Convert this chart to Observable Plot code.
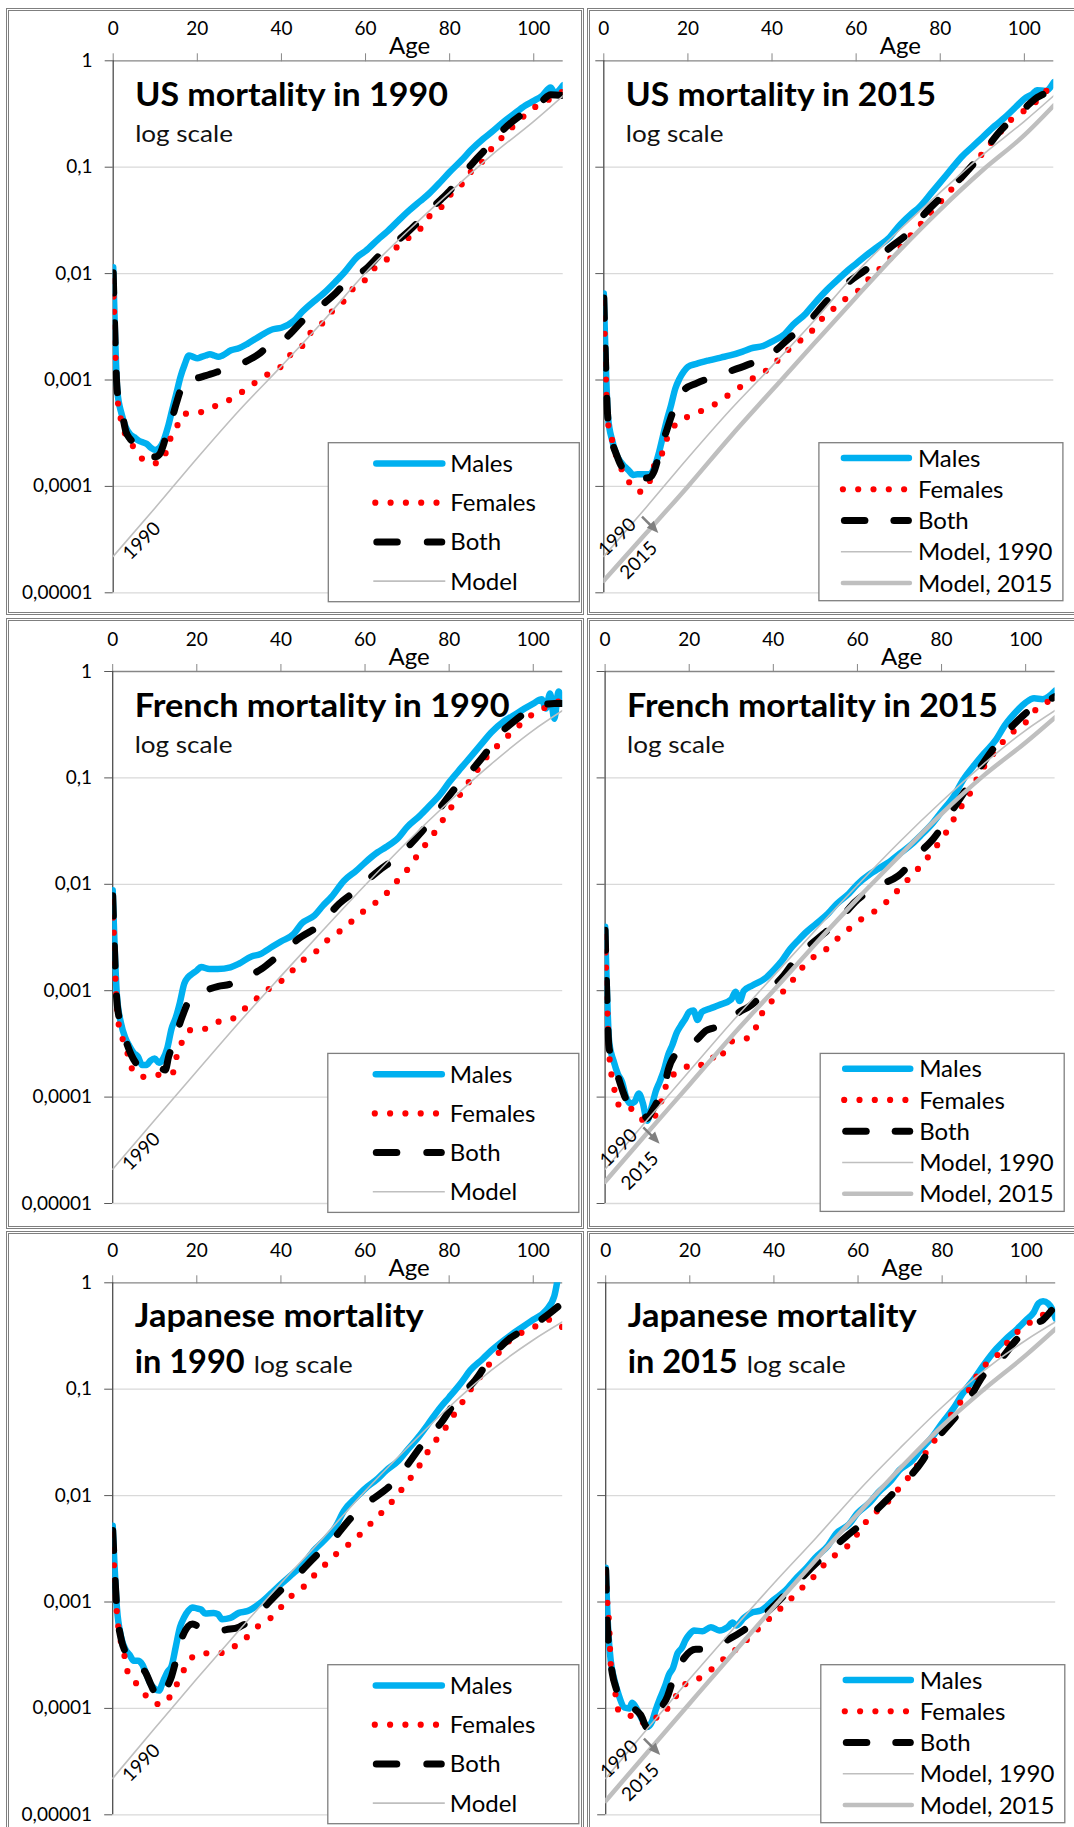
<!DOCTYPE html>
<html><head><meta charset="utf-8">
<script src="https://cdn.jsdelivr.net/npm/d3@7"></script>
<script src="https://cdn.jsdelivr.net/npm/@observablehq/plot@0.6"></script>
<style>
body{margin:0;background:#fff;font-family:Lato,"Open Sans",sans-serif;}
#wrap{position:relative;width:1074px;height:1827px;overflow:hidden;background:#fff;}
.frame{position:absolute;border:3px double #7f7f7f;box-sizing:border-box;pointer-events:none;}
.panel{position:absolute;}
</style></head><body><div id="wrap"></div>
<script>
// ---------- ticks ----------
const xTicks = [0, 20, 40, 60, 80, 100];
const yTicks = [1, 0.1, 0.01, 0.001, 0.0001, 0.00001];
const yTickLabels = ["1", "0,1", "0,01", "0,001", "0,0001", "0,00001"];

// ---------- US 1990 ----------
const usM90 = [[0,0.0115],[1,0.00078],[2,0.00048],[3,0.00036],[4,0.00031],[5,0.00029],[6,0.00027],[7,0.00026],[8,0.00025],[9,0.00023],[10,0.00022],[11,0.00023],[12,0.00027],[13,0.00036],[14,0.00052],[15,0.00074],[16,0.00107],[17,0.0014],[18,0.0017],[19,0.00165],[20,0.0016],[21,0.00165],[22,0.0017],[23,0.00175],[24,0.0017],[25,0.00165],[26,0.0017],[28,0.0019],[30,0.002],[32,0.0022],[35,0.0026],[38,0.003],[40,0.0031],[43,0.0036],[45,0.0044],[48,0.0056],[50,0.0065],[53,0.0085],[55,0.0103],[58,0.0143],[60,0.0163],[63,0.021],[65,0.0245],[68,0.032],[70,0.038],[73,0.048],[75,0.056],[78,0.074],[80,0.09],[83,0.118],[85,0.144],[88,0.185],[90,0.214],[93,0.27],[95,0.31],[98,0.38],[100,0.42],[102,0.47],[104,0.56],[105,0.5],[107,0.59]];
const usF90 = [[0,0.0085],[1,0.0007],[2,0.0004],[3,0.0003],[4,0.00026],[5,0.00023],[6,0.0002],[7,0.00018],[8,0.00017],[9,0.000165],[10,0.000165],[11,0.00017],[12,0.00018],[13,0.00025],[14,0.0003],[15,0.00035],[16,0.00045],[17,0.00048],[19,0.00049],[22,0.00051],[25,0.00059],[28,0.00066],[31,0.00079],[34,0.00096],[37,0.00115],[40,0.00135],[42,0.0017],[45,0.0021],[47,0.0028],[50,0.0035],[52,0.0044],[55,0.0056],[57,0.0072],[60,0.0088],[62,0.0111],[65,0.0135],[67,0.017],[70,0.0213],[73,0.0263],[75,0.034],[78,0.042],[80,0.054],[83,0.07],[85,0.09],[88,0.116],[90,0.15],[93,0.2],[95,0.24],[98,0.31],[100,0.36],[103,0.42],[105,0.46],[107,0.52]];
const usB90 = [[0,0.0102],[1,0.00076],[2,0.00052],[3,0.00033],[4,0.00028],[5,0.000255],[6,0.00023],[7,0.00021],[8,0.0002],[9,0.00019],[10,0.00019],[11,0.0002],[12,0.00025],[13,0.00035],[14,0.00044],[15,0.0006],[16,0.0008],[17,0.00095],[18,0.0011],[19,0.00108],[20,0.00105],[22,0.0011],[25,0.0012],[28,0.00132],[30,0.0014],[33,0.0016],[35,0.0018],[37,0.0021],[40,0.0023],[42,0.0027],[45,0.0036],[48,0.0045],[50,0.0052],[53,0.0066],[55,0.008],[58,0.0097],[60,0.011],[63,0.0145],[65,0.0175],[68,0.021],[70,0.0245],[73,0.032],[75,0.039],[78,0.05],[80,0.06],[83,0.083],[85,0.104],[88,0.14],[90,0.166],[93,0.23],[95,0.27],[98,0.33],[100,0.37],[102,0.42],[104,0.48],[107,0.47]];
const usMod90 = [[0,2.2e-5],[10,6.3e-5],[20,1.85e-4],[30,5.2e-4],[40,1.35e-3],[50,3.6e-3],[60,0.0102],[70,0.025],[80,0.058],[90,0.13],[100,0.27],[107,0.47]];

// ---------- US 2015 ----------
const usM15 = [[0,0.0065],[1,0.00045],[2,0.00027],[3,0.0002],[4,0.00017],[5,0.000153],[6,0.00014],[7,0.000128],[8,0.00013],[9,0.00013],[10,0.00013],[11,0.00013],[12,0.00015],[13,0.0002],[14,0.00029],[15,0.00042],[16,0.00058],[17,0.00083],[18,0.00103],[19,0.0012],[20,0.00133],[22,0.00142],[25,0.00153],[28,0.00163],[30,0.0017],[33,0.00185],[35,0.00198],[38,0.0021],[40,0.0023],[43,0.0027],[45,0.0033],[48,0.0042],[50,0.0052],[53,0.007],[55,0.0083],[58,0.0107],[60,0.0124],[63,0.0155],[65,0.0178],[68,0.022],[70,0.0275],[73,0.036],[75,0.042],[78,0.058],[80,0.072],[83,0.1],[85,0.124],[88,0.16],[90,0.19],[93,0.245],[95,0.285],[98,0.37],[100,0.44],[102,0.49],[103,0.53],[105,0.52],[107,0.63]];
const usF15 = [[0,0.0053],[1,0.0004],[2,0.00027],[3,0.00019],[4,0.00015],[5,0.000132],[6,0.00011],[7,0.000096],[8,0.00009],[9,0.000089],[10,0.0001],[11,0.000114],[12,0.000158],[13,0.00018],[14,0.00021],[15,0.00028],[17,0.00038],[21,0.00047],[24,0.00053],[27,0.00061],[30,0.00074],[33,0.00089],[36,0.00107],[39,0.00126],[41.5,0.00155],[44,0.00194],[47,0.0024],[49.5,0.0029],[52,0.0038],[54.7,0.0047],[57.5,0.0058],[60.5,0.0069],[63,0.0089],[65.7,0.0112],[68.5,0.0144],[71.2,0.019],[74,0.0255],[77.2,0.035],[80,0.047],[83,0.064],[86,0.088],[89,0.12],[91.7,0.163],[94.3,0.214],[97.1,0.285],[100,0.34],[103,0.42],[105.2,0.52],[107,0.55]];
const usB15 = [[0,0.0059],[1,0.00042],[2,0.00026],[3,0.0002],[4,0.00016],[5,0.00014],[6,0.00013],[7,0.000125],[8,0.00012],[9,0.00012],[10,0.00012],[11,0.000122],[12,0.00014],[13,0.00019],[14,0.00026],[15,0.00034],[16,0.00045],[17,0.00058],[18,0.0007],[19,0.0008],[22,0.00093],[27,0.0011],[34,0.00138],[39,0.00166],[44,0.00245],[48.6,0.0035],[53.4,0.0057],[58,0.0082],[63.3,0.0117],[68,0.0175],[72.4,0.024],[76.4,0.037],[81.2,0.057],[85.5,0.084],[90,0.134],[94.3,0.22],[100,0.355],[102.6,0.44],[105,0.5],[107,0.58]];
const usMod15 = [[0,1.3e-5],[10,3.6e-5],[20,1.0e-4],[30,2.9e-4],[40,8.0e-4],[50,2.2e-3],[60,6.0e-3],[70,0.016],[80,0.04],[90,0.093],[100,0.2],[107,0.38]];

// ---------- France 1990 ----------
const frM90 = [[0,0.0088],[1,0.0009],[2,0.00049],[3,0.00036],[4,0.0003],[5,0.00026],[6,0.00024],[7,0.0002],[8,0.0002],[9,0.00022],[10,0.00023],[11,0.00021],[12,0.00023],[13,0.00029],[14,0.00044],[15,0.00056],[16,0.00078],[17,0.00116],[18,0.00135],[19,0.00145],[20,0.00155],[21,0.00167],[23,0.0016],[25,0.0016],[28,0.00166],[30,0.00179],[33,0.0021],[35,0.0022],[38,0.0026],[40,0.0029],[43,0.0034],[45,0.0043],[48,0.0051],[50,0.0063],[52,0.0076],[55,0.0108],[58,0.0135],[60,0.016],[63,0.02],[65,0.0224],[68,0.0276],[70,0.0345],[73,0.044],[75,0.053],[78,0.071],[80,0.091],[83,0.126],[85,0.156],[88,0.216],[90,0.267],[93,0.34],[95,0.38],[98,0.45],[100,0.5],[102,0.55],[103,0.45],[104,0.62],[105,0.36],[106,0.65],[107,0.5]];
const frF90 = [[0,0.0068],[1,0.0007],[1.6,0.00044],[2.8,0.00032],[3.9,0.00023],[4.9,0.000173],[7.4,0.000155],[10.2,0.000159],[12.7,0.00017],[14.3,0.00017],[15.3,0.00025],[16.5,0.00033],[18.7,0.00043],[22.2,0.00044],[25.1,0.00051],[27.9,0.00053],[30.6,0.00064],[33.1,0.00077],[35.7,0.00095],[38.1,0.0011],[40.5,0.00127],[43.1,0.0016],[45.7,0.002],[48.7,0.0024],[51.1,0.003],[53.9,0.0036],[56.6,0.0044],[59.2,0.0054],[62,0.0065],[64.7,0.0079],[67.1,0.0102],[69.6,0.013],[71.7,0.017],[73.9,0.0223],[76.1,0.029],[78.1,0.038],[80.1,0.05],[82.2,0.066],[84.2,0.086],[86.3,0.112],[88.5,0.15],[90.9,0.19],[95,0.27],[100,0.4],[105,0.5],[107,0.55]];
const frB90 = [[0,0.0078],[1,0.0008],[2,0.00047],[3,0.00035],[4.4,0.00025],[7,0.00019],[9,0.00019],[11,0.00019],[12.5,0.00018],[13.3,0.00024],[14.3,0.00031],[16.6,0.00058],[18,0.00079],[19.2,0.00088],[22,0.001],[25.1,0.0011],[27.9,0.00115],[29.8,0.00125],[35.4,0.0016],[38.5,0.002],[44.8,0.0032],[49.1,0.0041],[53.9,0.0066],[57.8,0.0087],[63.3,0.0135],[67.6,0.018],[73.1,0.03],[76.3,0.043],[80.6,0.073],[84.2,0.105],[88.9,0.175],[91.3,0.24],[95,0.33],[100,0.45],[105,0.5],[107,0.5]];
const frMod90 = [[0,2.1e-5],[10,6.1e-5],[20,1.75e-4],[30,5.0e-4],[40,1.37e-3],[50,3.7e-3],[60,0.0098],[70,0.025],[80,0.06],[90,0.135],[100,0.28],[107,0.43]];

// ---------- France 2015 ----------
const frM15 = [[0,0.004],[1,0.00032],[2,0.00022],[3,0.000166],[4,0.00014],[5,0.0001],[6,0.000087],[7,0.00009],[8,0.000108],[9,0.000087],[10,0.00006],[11,0.000079],[12,0.000112],[13,0.00014],[14,0.00018],[15,0.00025],[16,0.00031],[17,0.0004],[18,0.00047],[19,0.00054],[20,0.00063],[21,0.00065],[22,0.00053],[23,0.00063],[25,0.00068],[27,0.00073],[30,0.00083],[31,0.00098],[32,0.0008],[33,0.001],[35,0.00112],[38,0.0013],[40,0.00155],[42,0.0019],[44,0.00246],[46,0.003],[48,0.0036],[50,0.0042],[53,0.0053],[55,0.0065],[58,0.0082],[60,0.01],[63,0.0125],[65,0.014],[68,0.0167],[70,0.0193],[73,0.024],[75,0.0286],[78,0.038],[80,0.048],[83,0.068],[85,0.094],[88,0.135],[90,0.168],[93,0.23],[95,0.31],[98,0.43],[100,0.51],[102,0.56],[104,0.55],[107,0.66]];
const frF15 = [[0,0.0032],[1,0.00025],[2,0.00013],[4,0.000078],[6,0.000078],[7.6,0.000067],[9.6,0.00006],[11.1,0.000062],[12.6,0.000075],[14,0.00011],[15.1,0.00015],[17.5,0.000172],[19.1,0.00019],[21.1,0.000206],[22.7,0.0002],[25.1,0.00024],[27.1,0.00022],[28.7,0.000295],[31.5,0.00035],[34.3,0.00036],[37.5,0.00063],[40.2,0.00084],[43,0.00104],[46.6,0.0016],[49,0.002],[51.8,0.0023],[54.2,0.00285],[57,0.0035],[59.8,0.0044],[62.5,0.0051],[65.7,0.0062],[68.5,0.0079],[70.9,0.01],[73.3,0.0125],[75.7,0.016],[78.1,0.021],[80.1,0.027],[82.1,0.0355],[83.8,0.048],[86,0.063],[89.2,0.112],[91.6,0.155],[96,0.25],[100.4,0.344],[103.6,0.49],[106.5,0.53]];
const frB15 = [[0,0.0037],[1,0.00028],[2,0.00023],[3,0.00016],[4,0.00012],[5,0.000095],[6,0.000085],[8,0.00008],[9,0.000074],[10,0.000063],[11,0.000072],[12,0.000085],[13,0.0001],[14,0.00012],[15,0.00018],[17,0.00026],[19,0.0003],[21.9,0.00035],[23.9,0.00042],[26,0.00045],[28,0.0005],[30.3,0.00056],[31.9,0.00063],[34,0.0007],[38.2,0.00096],[42.2,0.00135],[46.2,0.0022],[50.2,0.003],[55.8,0.0047],[59.4,0.0068],[65.3,0.0098],[69.7,0.012],[74.9,0.02],[78.1,0.027],[83.3,0.055],[86.1,0.081],[90,0.14],[92.8,0.2],[97.6,0.33],[101.2,0.44],[104,0.5],[107,0.58]];
const frMod15 = [[0,1.6e-5],[10,4.6e-5],[20,1.3e-4],[30,3.7e-4],[40,1.0e-3],[50,2.75e-3],[60,7.3e-3],[70,0.0185],[80,0.046],[90,0.105],[100,0.215],[107,0.37]];

// ---------- Japan 1990 ----------
const jpM90 = [[0,0.0052],[1,0.00089],[2,0.00047],[3,0.00036],[4,0.00032],[5,0.00028],[6,0.00028],[7,0.00026],[8,0.00021],[9,0.00017],[10,0.000153],[11,0.000147],[12,0.00018],[13,0.00022],[14,0.00025],[15,0.00038],[16,0.00058],[17,0.00072],[18,0.00083],[19,0.00089],[20,0.00087],[21,0.00085],[22,0.00078],[24,0.00079],[25,0.00077],[26,0.00069],[28,0.00071],[30,0.00079],[32,0.00082],[35,0.00097],[38,0.00124],[40,0.00147],[43,0.00187],[45,0.0022],[48,0.0031],[50,0.0037],[53,0.0051],[55,0.0072],[58,0.0097],[60,0.0116],[63,0.0144],[65,0.0172],[68,0.0214],[70,0.0266],[73,0.0367],[75,0.047],[78,0.068],[80,0.084],[83,0.117],[85,0.15],[88,0.193],[90,0.23],[95,0.33],[100,0.45],[103,0.55],[105,0.75],[106,1.2]];
const jpF90 = [[0,0.0043],[0.5,0.0016],[1,0.00079],[1.4,0.00056],[2,0.00041],[2.9,0.0003],[3.7,0.00021],[5.7,0.00017],[7.9,0.000132],[10.3,0.00011],[12.2,0.00011],[14.2,0.000143],[15.9,0.000188],[17.5,0.000254],[19.3,0.00031],[21.8,0.00033],[24.6,0.00033],[27.4,0.00034],[30,0.00042],[32.6,0.00049],[35.1,0.00062],[38,0.00073],[40.4,0.00093],[42.7,0.00116],[45.5,0.0014],[47.9,0.00178],[50.5,0.00224],[53.2,0.00284],[55.8,0.0034],[58.5,0.0042],[61,0.0053],[63.6,0.0067],[66.1,0.0085],[68.4,0.011],[70.7,0.0144],[72.7,0.0185],[74.7,0.025],[76.7,0.0325],[79,0.0425],[80.8,0.055],[83,0.074],[84.9,0.097],[86.9,0.123],[89.3,0.167],[91.6,0.215],[94,0.277],[100,0.38],[104,0.45],[107,0.38]];
const jpB90 = [[0,0.0047],[1,0.00085],[2,0.00045],[3,0.00034],[4,0.0003],[6,0.00026],[8,0.00021],[9,0.00017],[10,0.00014],[11,0.000123],[12,0.00013],[13,0.00016],[14,0.0002],[15,0.00028],[16,0.00041],[19,0.00062],[20.7,0.00058],[24.6,0.00053],[27,0.00055],[30,0.00058],[31.7,0.00063],[34.5,0.00078],[39.6,0.00125],[43.5,0.00173],[48.3,0.0027],[52.2,0.0038],[56.9,0.0063],[60.9,0.0087],[66.4,0.0129],[70.3,0.02],[74.3,0.033],[78.2,0.049],[82.2,0.084],[86.1,0.12],[90,0.2],[94,0.29],[100,0.4],[104,0.52],[107,0.65]];
const jpMod90 = [[0,2.2e-5],[10,6.5e-5],[20,1.9e-4],[30,5.4e-4],[40,1.5e-3],[50,4.0e-3],[60,0.011],[70,0.028],[80,0.068],[90,0.15],[100,0.29],[107,0.43]];

// ---------- Japan 2015 ----------
const jpM15 = [[0,0.0021],[0.6,0.00054],[1.2,0.00028],[2,0.00019],[3.2,0.00013],[4.4,0.000102],[5.6,0.0001],[6.3,0.000113],[7.5,0.000097],[8.7,0.000078],[9.9,0.000067],[11,0.000075],[11.9,0.000097],[12.9,0.000124],[14,0.000158],[15.1,0.00021],[16,0.00024],[17.1,0.00033],[18.1,0.00037],[19,0.00044],[20,0.0005],[21,0.00054],[23,0.00053],[25,0.00058],[27,0.00054],[29,0.00058],[30.2,0.00064],[31,0.0006],[32.9,0.00071],[34.9,0.0008],[36.9,0.00083],[39.8,0.00104],[42.9,0.0013],[44.8,0.00159],[47.8,0.0021],[49.8,0.0026],[52.9,0.0034],[54.8,0.0044],[57.9,0.0054],[59.8,0.0068],[62.9,0.0087],[64.8,0.0107],[67.9,0.0139],[69.8,0.0173],[72.9,0.0214],[74.8,0.0266],[77.9,0.0367],[79.8,0.047],[82.9,0.068],[84.8,0.09],[87.9,0.13],[89.8,0.167],[92.9,0.24],[94.8,0.287],[97.9,0.37],[99.8,0.44],[101.8,0.53],[102.9,0.64],[104,0.67],[105.2,0.64],[106.1,0.57],[107,0.46]];
const jpF15 = [[0,0.0019],[0.4,0.00097],[0.8,0.00063],[1.2,0.00026],[1.8,0.00019],[3.2,0.0000925],[5.4,0.000088],[8.3,0.000072],[10.3,0.000082],[12.9,0.000082],[14.7,0.0001],[17.1,0.000137],[19,0.00017],[21.3,0.00018],[23.4,0.00021],[25,0.00023],[27,0.00027],[29.8,0.00033],[32.5,0.0004],[34.9,0.0005],[37.7,0.000625],[40.1,0.00078],[42.9,0.00096],[45.2,0.0012],[47.8,0.00149],[50.2,0.00185],[52.6,0.0024],[55.6,0.00295],[58.6,0.0037],[61.1,0.0052],[63.9,0.0068],[66.7,0.0084],[69,0.0108],[71.4,0.0139],[73.8,0.0185],[76.2,0.0256],[78.2,0.033],[80.2,0.042],[82.1,0.057],[84.1,0.073],[86.1,0.094],[88.1,0.13],[90.5,0.173],[93.7,0.22],[96,0.29],[98.4,0.36],[101.6,0.44],[106.3,0.56]];
const jpB15 = [[0,0.002],[0.4,0.0006],[1.6,0.00021],[2.4,0.000158],[3.6,0.000118],[4.5,0.00011],[7.1,0.000097],[8.3,0.000087],[9.9,0.000066],[11.1,0.000077],[13.1,0.0001],[14.7,0.00013],[15.9,0.00018],[18.7,0.0003],[21.4,0.00036],[23.4,0.00036],[29.4,0.00045],[33.3,0.00056],[38.9,0.00084],[42.9,0.0012],[50,0.0023],[57.1,0.0041],[60.3,0.0052],[65.9,0.0084],[69.4,0.0116],[75.4,0.0215],[77.4,0.029],[82.5,0.051],[85.7,0.073],[90.1,0.14],[93.7,0.186],[97.6,0.29],[102,0.41],[104,0.45],[106,0.55]];
const jpMod15 = [[0,1.35e-5],[10,3.9e-5],[20,1.12e-4],[30,3.2e-4],[40,9.0e-4],[50,2.5e-3],[60,6.8e-3],[70,0.018],[80,0.045],[90,0.1],[100,0.21],[107,0.37]];

// ---------- text ----------
const legendOld = ["Males", "Females", "Both", "Model"];
const legendNew = ["Males", "Females", "Both", "Model, 1990", "Model, 2015"];

const panels = [
  {title: ["US mortality in 1990"], males: usM90, females: usF90, both: usB90, models: [usMod90], legend: legendOld, years: ["1990"], row: 0, col: 0},
  {title: ["US mortality in 2015"], males: usM15, females: usF15, both: usB15, models: [usMod90, usMod15], legend: legendNew, years: ["1990", "2015"], row: 0, col: 1},
  {title: ["French mortality in 1990"], males: frM90, females: frF90, both: frB90, models: [frMod90], legend: legendOld, years: ["1990"], row: 1, col: 0},
  {title: ["French mortality in 2015"], males: frM15, females: frF15, both: frB15, models: [frMod90, frMod15], legend: legendNew, years: ["1990", "2015"], row: 1, col: 1},
  {title: ["Japanese mortality", "in 1990"], males: jpM90, females: jpF90, both: jpB90, models: [jpMod90], legend: legendOld, years: ["1990"], row: 2, col: 0},
  {title: ["Japanese mortality", "in 2015"], males: jpM15, females: jpF15, both: jpB15, models: [jpMod90, jpMod15], legend: legendNew, years: ["1990", "2015"], row: 2, col: 1}
];

// ---------- layout ----------
const rows = [{svgTop: 0, h: 614, ty: 60.3}, {svgTop: 614, h: 616, ty: 671}, {svgTop: 1230, h: 597, ty: 1282.3}];
const cols = [{svgLeft: 0, w: 585, ax: [112.7, 112.2, 112.2]}, {svgLeft: 585, w: 489, ax: [603.3, 604.6, 605.2]}];
const frames = [
  [6, 8, 578, 607], [587, 8, 492, 607],
  [6, 618, 578, 611], [587, 618, 492, 611],
  [6, 1231, 578, 606], [587, 1231, 492, 606]
];
const PW = 450, PH = 532;
const FONT = "Lato, 'Open Sans', sans-serif";

const sty = {
  males: {stroke: "#00B0F0", strokeWidth: 6.5},
  females: {stroke: "#FF0000", strokeWidth: 6.2, strokeDasharray: "0 15.3", strokeLinecap: "round"},
  both: {stroke: "#000000", strokeWidth: 7, strokeDasharray: "20 30", strokeLinecap: "round"},
  m90: {stroke: "#BFBFBF", strokeWidth: 1.6},
  m15: {stroke: "#BFBFBF", strokeWidth: 4.5}
};

const wrap = document.getElementById("wrap");

function line(data, s) {
  return Plot.line(data, {x: d => d[0], y: d => d[1], curve: "monotone-x", clip: true, strokeLinejoin: "round", ...s});
}

panels.forEach(p => {
  const R = rows[p.row], C = cols[p.col];
  const ax = C.ax[p.row], ty = R.ty;
  const mL = ax - C.svgLeft, mT = ty - R.svgTop;
  const left = p.col === 0;
  const marks = [
    Plot.ruleY(yTicks.filter(v => v < 1), {stroke: "#d9d9d9", strokeWidth: 1.3}),
    Plot.axisX({anchor: "top", ticks: xTicks, tickSize: 8, tickPadding: 17.6, stroke: "#868686", fill: "#000", fontSize: 19, tickFormat: d => String(d), label: null}),
    Plot.axisY({anchor: "left", ticks: yTicks, tickSize: 8, tickPadding: 12.7, stroke: "#595959", fill: "#000", fontSize: 19,
      tickFormat: left ? (d => yTickLabels[Math.round(-Math.log10(d))]) : (() => ""), label: null}),
    Plot.ruleY([1], {stroke: "#868686", strokeWidth: 1.3}),
    Plot.ruleX([0], {stroke: "#4d4d4d", strokeWidth: 1.3}),
    Plot.text([{a: 70.5, t: "Age"}], {x: "a", text: "t", frameAnchor: "top", lineAnchor: "bottom", dy: -7, fontSize: 24, fill: "#000"}),
    line(p.males, sty.males),
    line(p.females, sty.females),
    line(p.both, sty.both),
    line(p.models[0], sty.m90)
  ];
  if (p.models[1]) marks.push(line(p.models[1], sty.m15));

  const chart = Plot.plot({
    width: C.w, height: R.h,
    marginLeft: mL, marginRight: C.w - mL - PW, marginTop: mT, marginBottom: R.h - mT - PH,
    x: {domain: [0, 107]},
    y: {type: "log", domain: [1e-5, 1]},
    style: {fontFamily: FONT, fontSize: "19px", color: "#000", background: "transparent", overflow: "visible"},
    marks
  });
  chart.classList.add("panel");
  chart.style.left = C.svgLeft + "px";
  chart.style.top = R.svgTop + "px";
  wrap.appendChild(chart);

  const svg = d3.select(chart);
  const g = svg.append("g").attr("transform", `translate(${mL},${mT})`)
    .attr("text-anchor", "start").style("font-family", FONT);

  // titles
  if (p.title.length === 1) {
    const tw = {"US mortality in 1990": 312.7, "US mortality in 2015": 310.3, "French mortality in 1990": 375, "French mortality in 2015": 370.7}[p.title[0]];
    g.append("text").attr("x", 22.5).attr("y", 45.5).attr("font-size", 32).attr("font-weight", 700)
      .attr("textLength", tw).attr("lengthAdjust", "spacingAndGlyphs").attr("fill", "#000").text(p.title[0]);
    g.append("text").attr("x", 22.5).attr("y", 82).attr("font-size", 23).attr("fill", "#111")
      .attr("textLength", 97.7).attr("lengthAdjust", "spacingAndGlyphs").text("log scale");
  } else {
    g.append("text").attr("x", 22.5).attr("y", 45).attr("font-size", 32).attr("font-weight", 700)
      .attr("textLength", 289).attr("lengthAdjust", "spacingAndGlyphs").attr("fill", "#000").text(p.title[0]);
    g.append("text").attr("x", 22.5).attr("y", 90.5).attr("font-size", 32).attr("font-weight", 700)
      .attr("textLength", 110).attr("lengthAdjust", "spacingAndGlyphs").attr("fill", "#000").text(p.title[1]);
    g.append("text").attr("x", 141.5).attr("y", 90.5).attr("font-size", 23).attr("fill", "#111")
      .attr("textLength", 99).attr("lengthAdjust", "spacingAndGlyphs").text("log scale");
  }

  // year labels along model lines
  const yl = left ? [[28.8, 480.2]] : [[13.7, 476.4], [35, 499.7]];
  p.years.forEach((t, i) => {
    g.append("text").attr("transform", `translate(${yl[i][0]},${yl[i][1]}) rotate(-45)`)
      .attr("text-anchor", "middle").attr("dy", "0.35em").attr("font-size", 19).attr("fill", "#000").text(t);
  });
  if (!left) {
    g.append("line").attr("x1", 38.7).attr("y1", 456.4).attr("x2", 49).attr("y2", 466.7)
      .attr("stroke", "#808080").attr("stroke-width", 2.5);
    g.append("path").attr("d", "M55,472.7 L43.5,467.5 L50.5,460.5 Z").attr("fill", "#808080");
  }

  // legend
  const lx = 215.6, ly = 382.4;
  const lw = left ? 251 : 244, lh = left ? 159 : 158;
  const lg = g.append("g").attr("transform", `translate(${lx},${ly})`);
  lg.append("rect").attr("width", lw).attr("height", lh).attr("fill", "#fff").attr("stroke", "#7f7f7f").attr("stroke-width", 1.3);
  const s0 = left ? 45 : 22, s1 = left ? 117 : 93, tx = left ? 122 : 99;
  const r0 = left ? 20.8 : 15.3, dr = left ? 39.2 : 31.25;
  p.legend.forEach((name, i) => {
    const y = r0 + i * dr;
    if (i === 0) lg.append("line").attr("x1", s0 + 3).attr("x2", s1 - 3).attr("y1", y).attr("y2", y)
      .attr("stroke", sty.males.stroke).attr("stroke-width", 6.5).attr("stroke-linecap", "round");
    if (i === 1) lg.append("line").attr("x1", s0 + 2).attr("x2", s0 + 2 + 4 * 15.3 + 0.1).attr("y1", y).attr("y2", y)
      .attr("stroke", "#FF0000").attr("stroke-width", 6.2).attr("stroke-dasharray", "0 15.3").attr("stroke-linecap", "round");
    if (i === 2) {
      lg.append("line").attr("x1", s0 + 3.5).attr("x2", s0 + 24).attr("y1", y).attr("y2", y)
        .attr("stroke", "#000").attr("stroke-width", 7).attr("stroke-linecap", "round");
      lg.append("line").attr("x1", s1 - 18).attr("x2", s1 - 3.5).attr("y1", y).attr("y2", y)
        .attr("stroke", "#000").attr("stroke-width", 7).attr("stroke-linecap", "round");
    }
    if (i === 3) lg.append("line").attr("x1", s0).attr("x2", s1).attr("y1", y).attr("y2", y)
      .attr("stroke", "#BFBFBF").attr("stroke-width", 1.6);
    if (i === 4) lg.append("line").attr("x1", s0 + 2).attr("x2", s1 - 2).attr("y1", y).attr("y2", y)
      .attr("stroke", "#BFBFBF").attr("stroke-width", 4.5).attr("stroke-linecap", "round");
    lg.append("text").attr("x", tx).attr("y", y + 8.6).attr("font-size", 24).attr("fill", "#000").text(name);
  });
});

frames.forEach(f => {
  const d = document.createElement("div");
  d.className = "frame";
  d.style.left = f[0] + "px"; d.style.top = f[1] + "px";
  d.style.width = f[2] + "px"; d.style.height = f[3] + "px";
  wrap.appendChild(d);
});
</script></body></html>
